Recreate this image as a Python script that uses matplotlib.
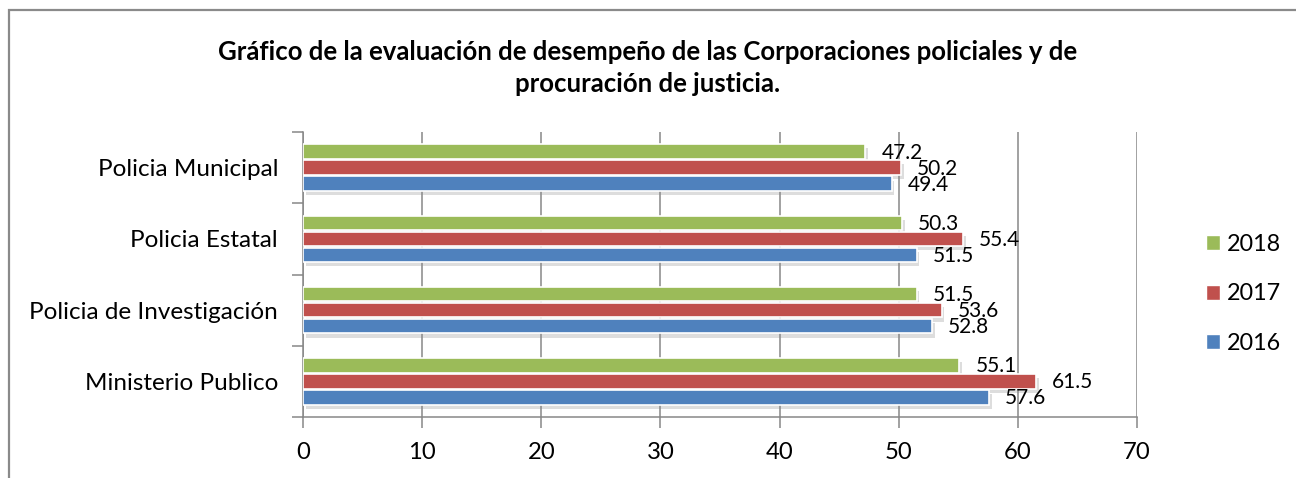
import matplotlib
matplotlib.use("Agg")
import matplotlib.pyplot as plt
import matplotlib.patheffects as pe
from matplotlib.patches import Rectangle, Patch
import numpy as np

categories = ["Ministerio Publico", "Policia de Investigación", "Policia Estatal", "Policia Municipal"]
years = ["2016", "2017", "2018"]
v2016 = [57.6, 52.8, 51.5, 49.4]
v2017 = [61.5, 53.6, 55.4, 50.2]
v2018 = [55.1, 51.5, 50.3, 47.2]
xticks = [0, 10, 20, 30, 40, 50, 60, 70]
title = "Gráfico de la evaluación de desempeño de las Corporaciones policiales y de\nprocuración de justicia."

colors = {"2016": "#4F81BD", "2017": "#C0504D", "2018": "#9BBB59"}
series = {"2016": v2016, "2017": v2017, "2018": v2018}
offsets = {"2016": -0.225, "2017": 0.0, "2018": 0.225}

plt.rcParams['font.family'] = ['Lato', 'DejaVu Sans']

W, H = 1296, 478
fig = plt.figure(figsize=(W / 100, H / 100), dpi=100)
fig.patch.set_facecolor("white")

# outer chart border
fig.patches.append(Rectangle((9 / W, -0.2), 2.0, (H - 10) / H + 0.2, transform=fig.transFigure,
                             fill=False, edgecolor="#8a8a8a", linewidth=1.6))

ax = fig.add_axes([303 / W, (H - 417) / H, (1137 - 303) / W, (417 - 132) / H])
y = np.arange(len(categories))
grey = "#878787"

shadow = [pe.SimplePatchShadow(offset=(2, -3), shadow_rgbFace="#8f8f8f", alpha=0.3), pe.Normal()]
zo = {"2018": 3, "2017": 4, "2016": 5}
for yr in ["2018", "2017", "2016"]:
    vals = series[yr]
    bars = ax.barh(y + offsets[yr], vals, height=0.205, color=colors[yr], edgecolor="white",
                   linewidth=1.2, zorder=zo[yr], label=yr)
    for b in bars:
        b.set_path_effects(shadow)
    for yi, v in zip(y, vals):
        ax.annotate(f"{v:.1f}", (v, yi + offsets[yr]), xytext=(16, -1), textcoords="offset pixels",
                    ha="left", va="center", fontsize=15, color="black", zorder=10)

ax.set_xlim(0, 70)
ax.set_ylim(-0.5, 3.5)
ax.set_xticks(xticks)
ax.set_xticklabels([str(t) for t in xticks], fontsize=17.2)
ax.set_yticks(np.arange(-0.5, 3.6, 1.0))
ax.set_yticklabels([])
ax.set_yticks(y, minor=True)
ax.set_yticklabels(categories, minor=True, fontsize=17.5)
ax.tick_params(axis="y", which="major", length=8, width=1.1, color=grey, direction="out")
ax.tick_params(axis="y", which="minor", length=0, pad=18)
ax.tick_params(axis="x", which="major", length=8, width=1.1, color=grey, direction="out", pad=10)

ax.grid(axis="x", color=grey, linewidth=1.1, zorder=0)
ax.set_axisbelow(True)
for s in ["top", "right"]:
    ax.spines[s].set_visible(False)
for s in ["left", "bottom"]:
    ax.spines[s].set_color(grey)
    ax.spines[s].set_linewidth(1.1)

fig.text(648 / W, 1 - 68 / H, title, ha="center", va="center", fontsize=18.5, fontweight="bold",
         linespacing=1.45)

handles = [Patch(facecolor=colors[yr], edgecolor="white", label=yr) for yr in ["2018", "2017", "2016"]]
fig.legend(handles=handles, loc="center left", bbox_to_anchor=(1194 / W, 1 - 294 / H), frameon=False,
           fontsize=16.8, handlelength=0.6, handleheight=0.6, handletextpad=0.3, labelspacing=1.22,
           borderpad=0)

fig.savefig("out.png", dpi=100)
